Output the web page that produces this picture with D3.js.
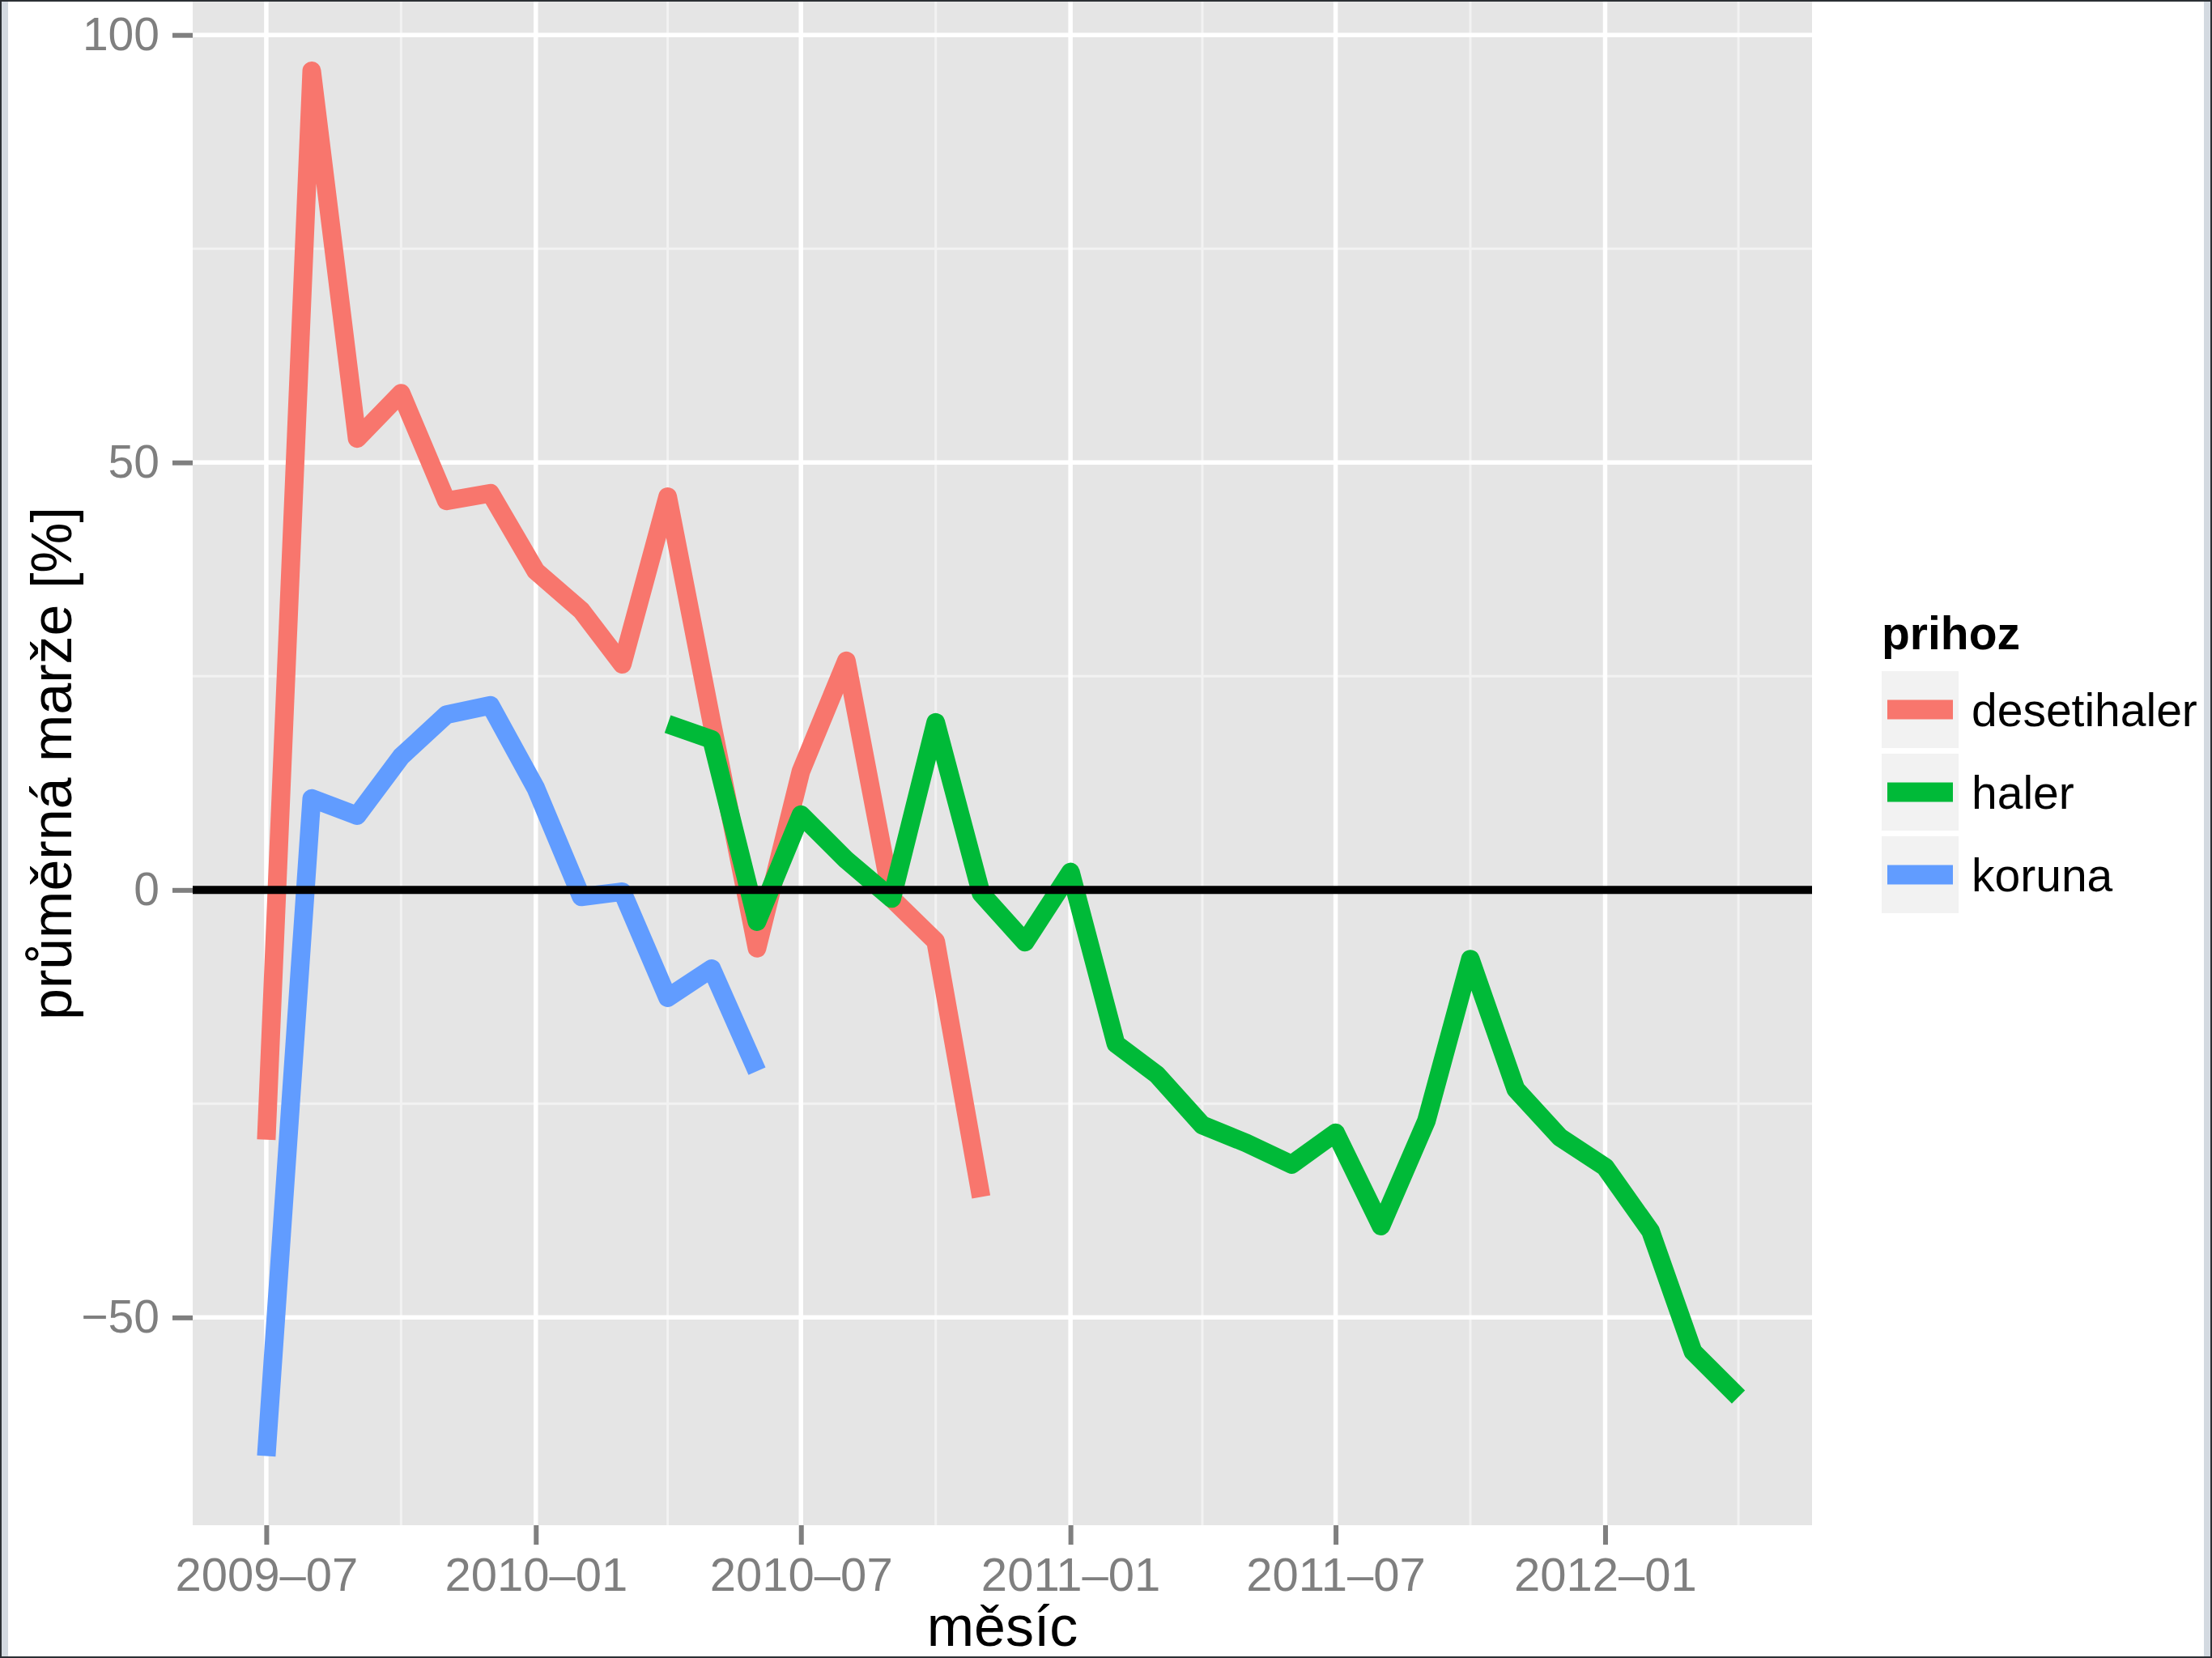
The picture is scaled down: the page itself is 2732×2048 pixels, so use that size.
<!DOCTYPE html>
<html>
<head>
<meta charset="utf-8">
<script src="https://cdn.jsdelivr.net/npm/d3@7"></script>
<style>
  html, body { margin: 0; padding: 0; background: #fff; }
  svg { display: block; font-family: "Liberation Sans", Arial, Helvetica, sans-serif; }
</style>
</head>
<body>
<div id="chart"></div>
<script>
// monthly averages, one array per "prihoz" group
const desetihalerStart = "2009-07";
const desetihaler = [-29.2, 95.8, 52.8, 58.1, 45.5, 46.4, 37.3, 32.7, 26.4, 46.0,
  19.7, -6.8, 13.9, 26.8, -1.0, -6.0, -35.9];

const halerStart = "2010-04";
const haler = [19.4, 17.6, -3.7, 8.8, 3.5, -1.0, 19.6, -0.4, -6.1, 2.1,
  -18.0, -21.6, -27.5, -29.6, -32.1, -28.4, -39.3, -27.0, -8.1, -23.3,
  -28.9, -32.4, -39.9, -54.0, -59.3];

const korunaStart = "2009-07";
const koruna = [-66.2, 10.7, 8.7, 15.6, 20.5, 21.6, 11.9, -0.8, -0.2, -12.6, -9.2, -21.2];

const groups = ["desetihaler", "haler", "koruna"];
const colors = ["#F8766D", "#00BA38", "#619CFF"];

const xTickLabels = ["2009\u201307", "2010\u201301", "2010\u201307", "2011\u201301", "2011\u201307", "2012\u201301"];
const yTicks = [-50, 0, 50, 100];
const yMinor = [-75, -25, 25, 75];

const W = 2732, H = 2048;
const panel = { left: 238, right: 2238, top: 2, bottom: 1884 };

const parse = d3.timeParse("%Y-%m");
function toSeries(start, values) {
  const t0 = parse(start);
  return values.map((v, i) => ({ date: d3.timeMonth.offset(t0, i), value: v }));
}
const series = [
  toSeries(desetihalerStart, desetihaler),
  toSeries(halerStart, haler),
  toSeries(korunaStart, koruna)
];
const all = series.flat();

// ggplot style 5% expansion
const xExt = d3.extent(all, d => d.date);
const xPad = (xExt[1] - xExt[0]) * 0.05;
const x = d3.scaleTime()
  .domain([new Date(+xExt[0] - xPad), new Date(+xExt[1] + xPad)])
  .range([panel.left, panel.right]);

const yExt = d3.extent(all, d => d.value);
const yPad = (yExt[1] - yExt[0]) * 0.05;
const y = d3.scaleLinear()
  .domain([yExt[0] - yPad, yExt[1] + yPad])
  .range([panel.bottom, panel.top]);

const xMajor = xTickLabels.map(s => parse(s.replace("\u2013", "-")));
const xDom = x.domain(), yDom = y.domain();
const xMinor = [d3.timeMonth.offset(xMajor[0], -3)]
  .concat(xMajor.map(d => d3.timeMonth.offset(d, 3)))
  .filter(d => d > xDom[0] && d < xDom[1]);
const yMinorIn = yMinor.filter(v => v > yDom[0] && v < yDom[1]);

const svg = d3.select("#chart").append("svg")
  .attr("width", W).attr("height", H);

// window frame like the screenshot
svg.append("rect").attr("width", W).attr("height", H).attr("fill", "#fff");
svg.append("rect").attr("x", 0).attr("y", 0).attr("width", 10).attr("height", H).attr("fill", "#d3d9e0");
svg.append("rect").attr("x", W - 10).attr("y", 0).attr("width", 10).attr("height", H).attr("fill", "#d3d9e0");
svg.append("rect").attr("x", 1).attr("y", 1).attr("width", W - 2).attr("height", H - 2)
  .attr("fill", "none").attr("stroke", "#2b2f34").attr("stroke-width", 2);

// panel
svg.append("rect")
  .attr("x", panel.left).attr("y", panel.top)
  .attr("width", panel.right - panel.left).attr("height", panel.bottom - panel.top)
  .attr("fill", "#e5e5e5");

const grid = svg.append("g");
grid.selectAll(".ymin").data(yMinorIn).join("line")
  .attr("x1", panel.left).attr("x2", panel.right)
  .attr("y1", d => y(d)).attr("y2", d => y(d))
  .attr("stroke", "#f2f2f2").attr("stroke-width", 3);
grid.selectAll(".xmin").data(xMinor).join("line")
  .attr("x1", d => x(d)).attr("x2", d => x(d))
  .attr("y1", panel.top).attr("y2", panel.bottom)
  .attr("stroke", "#f2f2f2").attr("stroke-width", 3);
grid.selectAll(".ymaj").data(yTicks).join("line")
  .attr("x1", panel.left).attr("x2", panel.right)
  .attr("y1", d => y(d)).attr("y2", d => y(d))
  .attr("stroke", "#fff").attr("stroke-width", 5.5);
grid.selectAll(".xmaj").data(xMajor).join("line")
  .attr("x1", d => x(d)).attr("x2", d => x(d))
  .attr("y1", panel.top).attr("y2", panel.bottom)
  .attr("stroke", "#fff").attr("stroke-width", 5.5);

// lines
const line = d3.line().x(d => x(d.date)).y(d => y(d.value));
svg.append("g").selectAll("path").data(series).join("path")
  .attr("d", line)
  .attr("fill", "none")
  .attr("stroke", (d, i) => colors[i])
  .attr("stroke-width", 23)
  .attr("stroke-linecap", "butt")
  .attr("stroke-linejoin", "round");

// zero line
svg.append("line")
  .attr("x1", panel.left).attr("x2", panel.right)
  .attr("y1", y(0)).attr("y2", y(0))
  .attr("stroke", "#000").attr("stroke-width", 10);

// axes
const xAxis = d3.axisBottom(x).tickValues(xMajor)
  .tickFormat((d, i) => xTickLabels[i]).tickSize(24).tickPadding(16);
const gx = svg.append("g").attr("transform", `translate(0,${panel.bottom})`).call(xAxis);
gx.select(".domain").remove();
gx.selectAll(".tick line").attr("stroke", "#7f7f7f").attr("stroke-width", 6);
gx.selectAll(".tick text").attr("fill", "#7f7f7f").attr("font-size", 58)
  .attr("font-family", "Liberation Sans, Arial, sans-serif");

const yAxis = d3.axisLeft(y).tickValues(yTicks)
  .tickFormat(d => d < 0 ? "\u2212" + Math.abs(d) : d).tickSize(25).tickPadding(16);
const gy = svg.append("g").attr("transform", `translate(${panel.left},0)`).call(yAxis);
gy.select(".domain").remove();
gy.selectAll(".tick line").attr("stroke", "#7f7f7f").attr("stroke-width", 6);
gy.selectAll(".tick text").attr("fill", "#7f7f7f").attr("font-size", 57)
  .attr("font-family", "Liberation Sans, Arial, sans-serif");

// axis titles
svg.append("text")
  .attr("x", (panel.left + panel.right) / 2).attr("y", 2033)
  .attr("text-anchor", "middle").attr("font-size", 70).attr("fill", "#000")
  .text("měsíc");
svg.append("text")
  .attr("transform", `translate(88,${(panel.top + panel.bottom) / 2}) rotate(-90)`)
  .attr("text-anchor", "middle").attr("font-size", 70).attr("fill", "#000")
  .text("průměrná marže [%]");

// legend
const legend = svg.append("g").attr("transform", "translate(2324,0)");
legend.append("text").attr("x", 0).attr("y", 802)
  .attr("font-size", 57).attr("font-weight", "bold").attr("fill", "#000")
  .text("prihoz");
const keys = legend.selectAll("g.key").data(groups).join("g")
  .attr("transform", (d, i) => `translate(0,${829 + i * 102})`);
keys.append("rect").attr("width", 95).attr("height", 95).attr("fill", "#f2f2f2");
keys.append("line")
  .attr("x1", 7).attr("x2", 88).attr("y1", 47.5).attr("y2", 47.5)
  .attr("stroke", (d, i) => colors[i]).attr("stroke-width", 24);
keys.append("text").attr("x", 111).attr("y", 68)
  .attr("font-size", 57).attr("fill", "#000")
  .text(d => d);
</script>
</body>
</html>
